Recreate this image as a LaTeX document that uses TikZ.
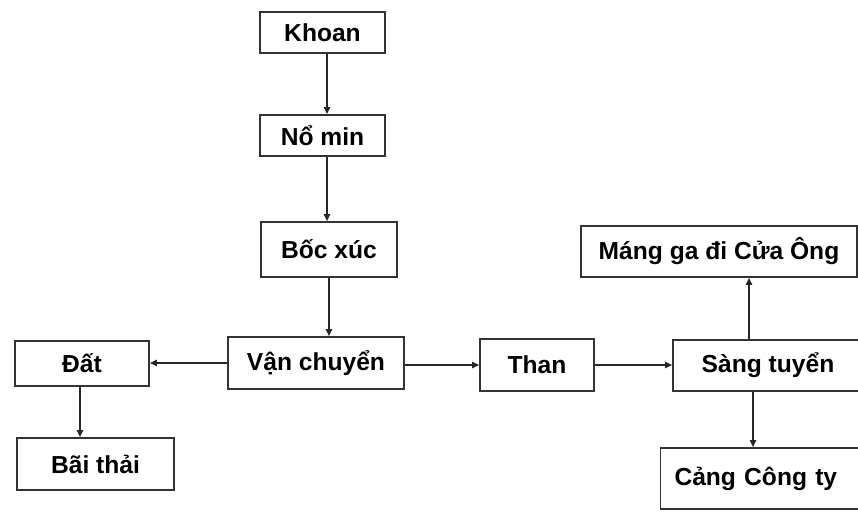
\documentclass[tikz,border=0pt]{standalone}
\usepackage{fontspec}
\setmainfont{Liberation Sans}
\usetikzlibrary{arrows.meta}

\tikzset{
  flowbox/.style = {draw = black!80, line width = 1pt, rectangle,
    inner sep = 0pt, font = \fontsize{14pt}{17pt}\selectfont\bfseries},
  flowarrow/.style = {draw = black!85, line width = 0.8pt,
    -{Triangle[length = 4pt, width = 3.6pt]}}
}

\begin{document}
\begin{tikzpicture}[x = 0.02cm, y = -0.02cm]
  \useasboundingbox (0, 0) rectangle (858, 511);
  \clip (0, 0) rectangle (858, 511);

  \node[flowbox, minimum width = 2.5cm, minimum height = 0.82cm] (khoan) at (322.5, 32.5) {Khoan};
  \node[flowbox, minimum width = 2.5cm, minimum height = 0.82cm] (nomin) at (322.5, 135.5) {Nổ min};
  \node[flowbox, minimum width = 2.72cm, minimum height = 1.1cm] (bocxuc) at (329, 249.5) {Bốc xúc};

  \node[flowbox, minimum width = 3.52cm, minimum height = 1.04cm] (vanchuyen) at (316, 363) {Vận chuyển};
  \node[flowbox, minimum width = 2.68cm, minimum height = 0.9cm] (dat) at (82, 363.5) {Đất};
  \node[flowbox, minimum width = 3.14cm, minimum height = 1.04cm] (baithai) at (95.5, 464) {Bãi thải};
  \node[flowbox, minimum width = 2.28cm, minimum height = 1.04cm] (than) at (537, 365) {Than};

  \node[flowbox, minimum width = 3.8cm, minimum height = 1.02cm] (sangtuyen) at (768, 365.5) {Sàng tuyển};
  \node[flowbox, minimum width = 5.52cm, minimum height = 1.02cm] (mangga) at (719, 251.5) {Máng ga đi Cửa Ông};
  \node[flowbox, minimum height = 1.22cm, text width = 3.56cm, inner xsep = 0.28cm, align = left] (cangcongty) at (763.5, 478.5) {Cảng Công ty};

  \draw[flowarrow] ([xshift = 0.09cm] khoan.south) -- ([xshift = 0.09cm] khoan.south |- nomin.north);
  \draw[flowarrow] ([xshift = 0.09cm] nomin.south) -- ([xshift = 0.09cm] nomin.south |- bocxuc.north);
  \draw[flowarrow] (bocxuc.south) -- (bocxuc.south |- vanchuyen.north);

  \draw[flowarrow] (vanchuyen.west) -- (vanchuyen.west -| dat.east);
  \draw[flowarrow] ([xshift = -0.04cm] dat.south) -- ([xshift = -0.04cm] dat.south |- baithai.north);
  \draw[flowarrow] ([yshift = -0.04cm] vanchuyen.east) -- ([yshift = -0.04cm] vanchuyen.east -| than.west);
  \draw[flowarrow] (than.east) -- (than.east -| sangtuyen.west);

  \draw[flowarrow] ([xshift = -0.38cm] sangtuyen.north) -- ([xshift = -0.38cm] sangtuyen.north |- mangga.south);
  \draw[flowarrow] ([xshift = -0.3cm] sangtuyen.south) -- ([xshift = -0.3cm] sangtuyen.south |- cangcongty.north);
\end{tikzpicture}
\end{document}
